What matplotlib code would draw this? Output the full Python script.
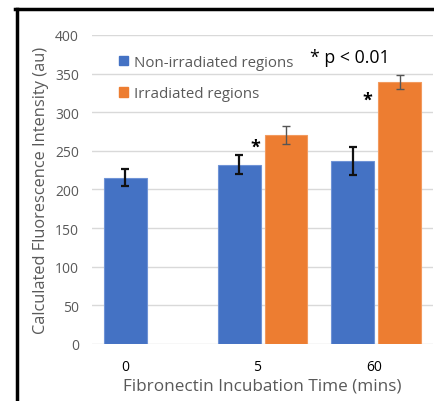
import matplotlib.pyplot as plt
from matplotlib.lines import Line2D
from matplotlib.patches import Patch
import numpy as np

# ===== data =====
times = ["0", "5", "60"]
non_irr = [215, 232, 237]
non_irr_err = [11, 12.5, 18]
irr = [np.nan, 271, 339]
irr_err = [np.nan, 11.5, 9]

blue = "#4472C4"
orange = "#ED7D31"
grey = "#595959"

plt.rcParams["font.family"] = ["Open Sans", "DejaVu Sans"]

fig = plt.figure(figsize=(4.35, 4.02), dpi=100)
ax = fig.add_axes([0.2115, 0.1418, 0.784, 0.7687])

x = np.arange(len(times))
w = 0.377
off = 0.206

ax.bar(x - off, non_irr, w, color=blue, edgecolor="#6f93d6", linewidth=0.8, zorder=2)
ax.bar(x + off, irr, w, color=orange, edgecolor="#f29a5e", linewidth=0.8, zorder=2)
ax.errorbar(x - off, non_irr, yerr=non_irr_err, fmt="none", ecolor="#111111",
            elinewidth=1.6, capsize=3, capthick=1.6, zorder=3)
ax.errorbar(x + off, irr, yerr=irr_err, fmt="none", ecolor="#555555",
            elinewidth=1.0, capsize=3, capthick=1.0, zorder=3)

ax.set_xlim(-0.5, 2.5)
ax.set_ylim(0, 400)
ax.set_yticks(range(0, 401, 50))
ax.set_xticks([-off, 0.95, 1.98])
ax.set_xticklabels(times)
ax.tick_params(length=0, colors=grey, labelsize=10)
ax.tick_params(axis="x", pad=10.5, colors="black")
ax.tick_params(axis="y", pad=9.5)
ax.grid(axis="y", color="#D9D9D9", linewidth=1, zorder=0)
ax.set_axisbelow(True)
for s in ax.spines.values():
    s.set_visible(False)

ax.set_ylabel("Calculated Fluorescence Intensity (au)", fontsize=11.8, color=grey, labelpad=4)
ax.set_xlabel("Fibronectin Incubation Time (mins)", fontsize=12.3, color=grey, labelpad=2.5)

# significance marks
ax.text(0.934, 255, "*", fontsize=13, fontweight="bold", ha="center", va="center")
ax.text(1.925, 316, "*", fontsize=13, fontweight="bold", ha="center", va="center")
ax.text(1.417, 371, "* p < 0.01", fontsize=12.8, ha="left", va="center")

handles = [Patch(color=blue, label="Non-irradiated regions"),
           Patch(color=orange, label="Irradiated regions")]
ax.legend(handles=handles, loc="upper left", bbox_to_anchor=(0.04, 0.98), frameon=False,
          fontsize=10.8, handlelength=0.6, handleheight=0.6, handletextpad=0.4,
          labelspacing=1.1, labelcolor=grey)

# black frame on left and top
fig.add_artist(Line2D([0.038, 0.038], [0.0, 0.975], color="black", linewidth=2.5,
                      transform=fig.transFigure))
fig.add_artist(Line2D([0.035, 1.0], [0.975, 0.975], color="black", linewidth=2.5,
                      transform=fig.transFigure))

fig.savefig("out.png", dpi=100)
